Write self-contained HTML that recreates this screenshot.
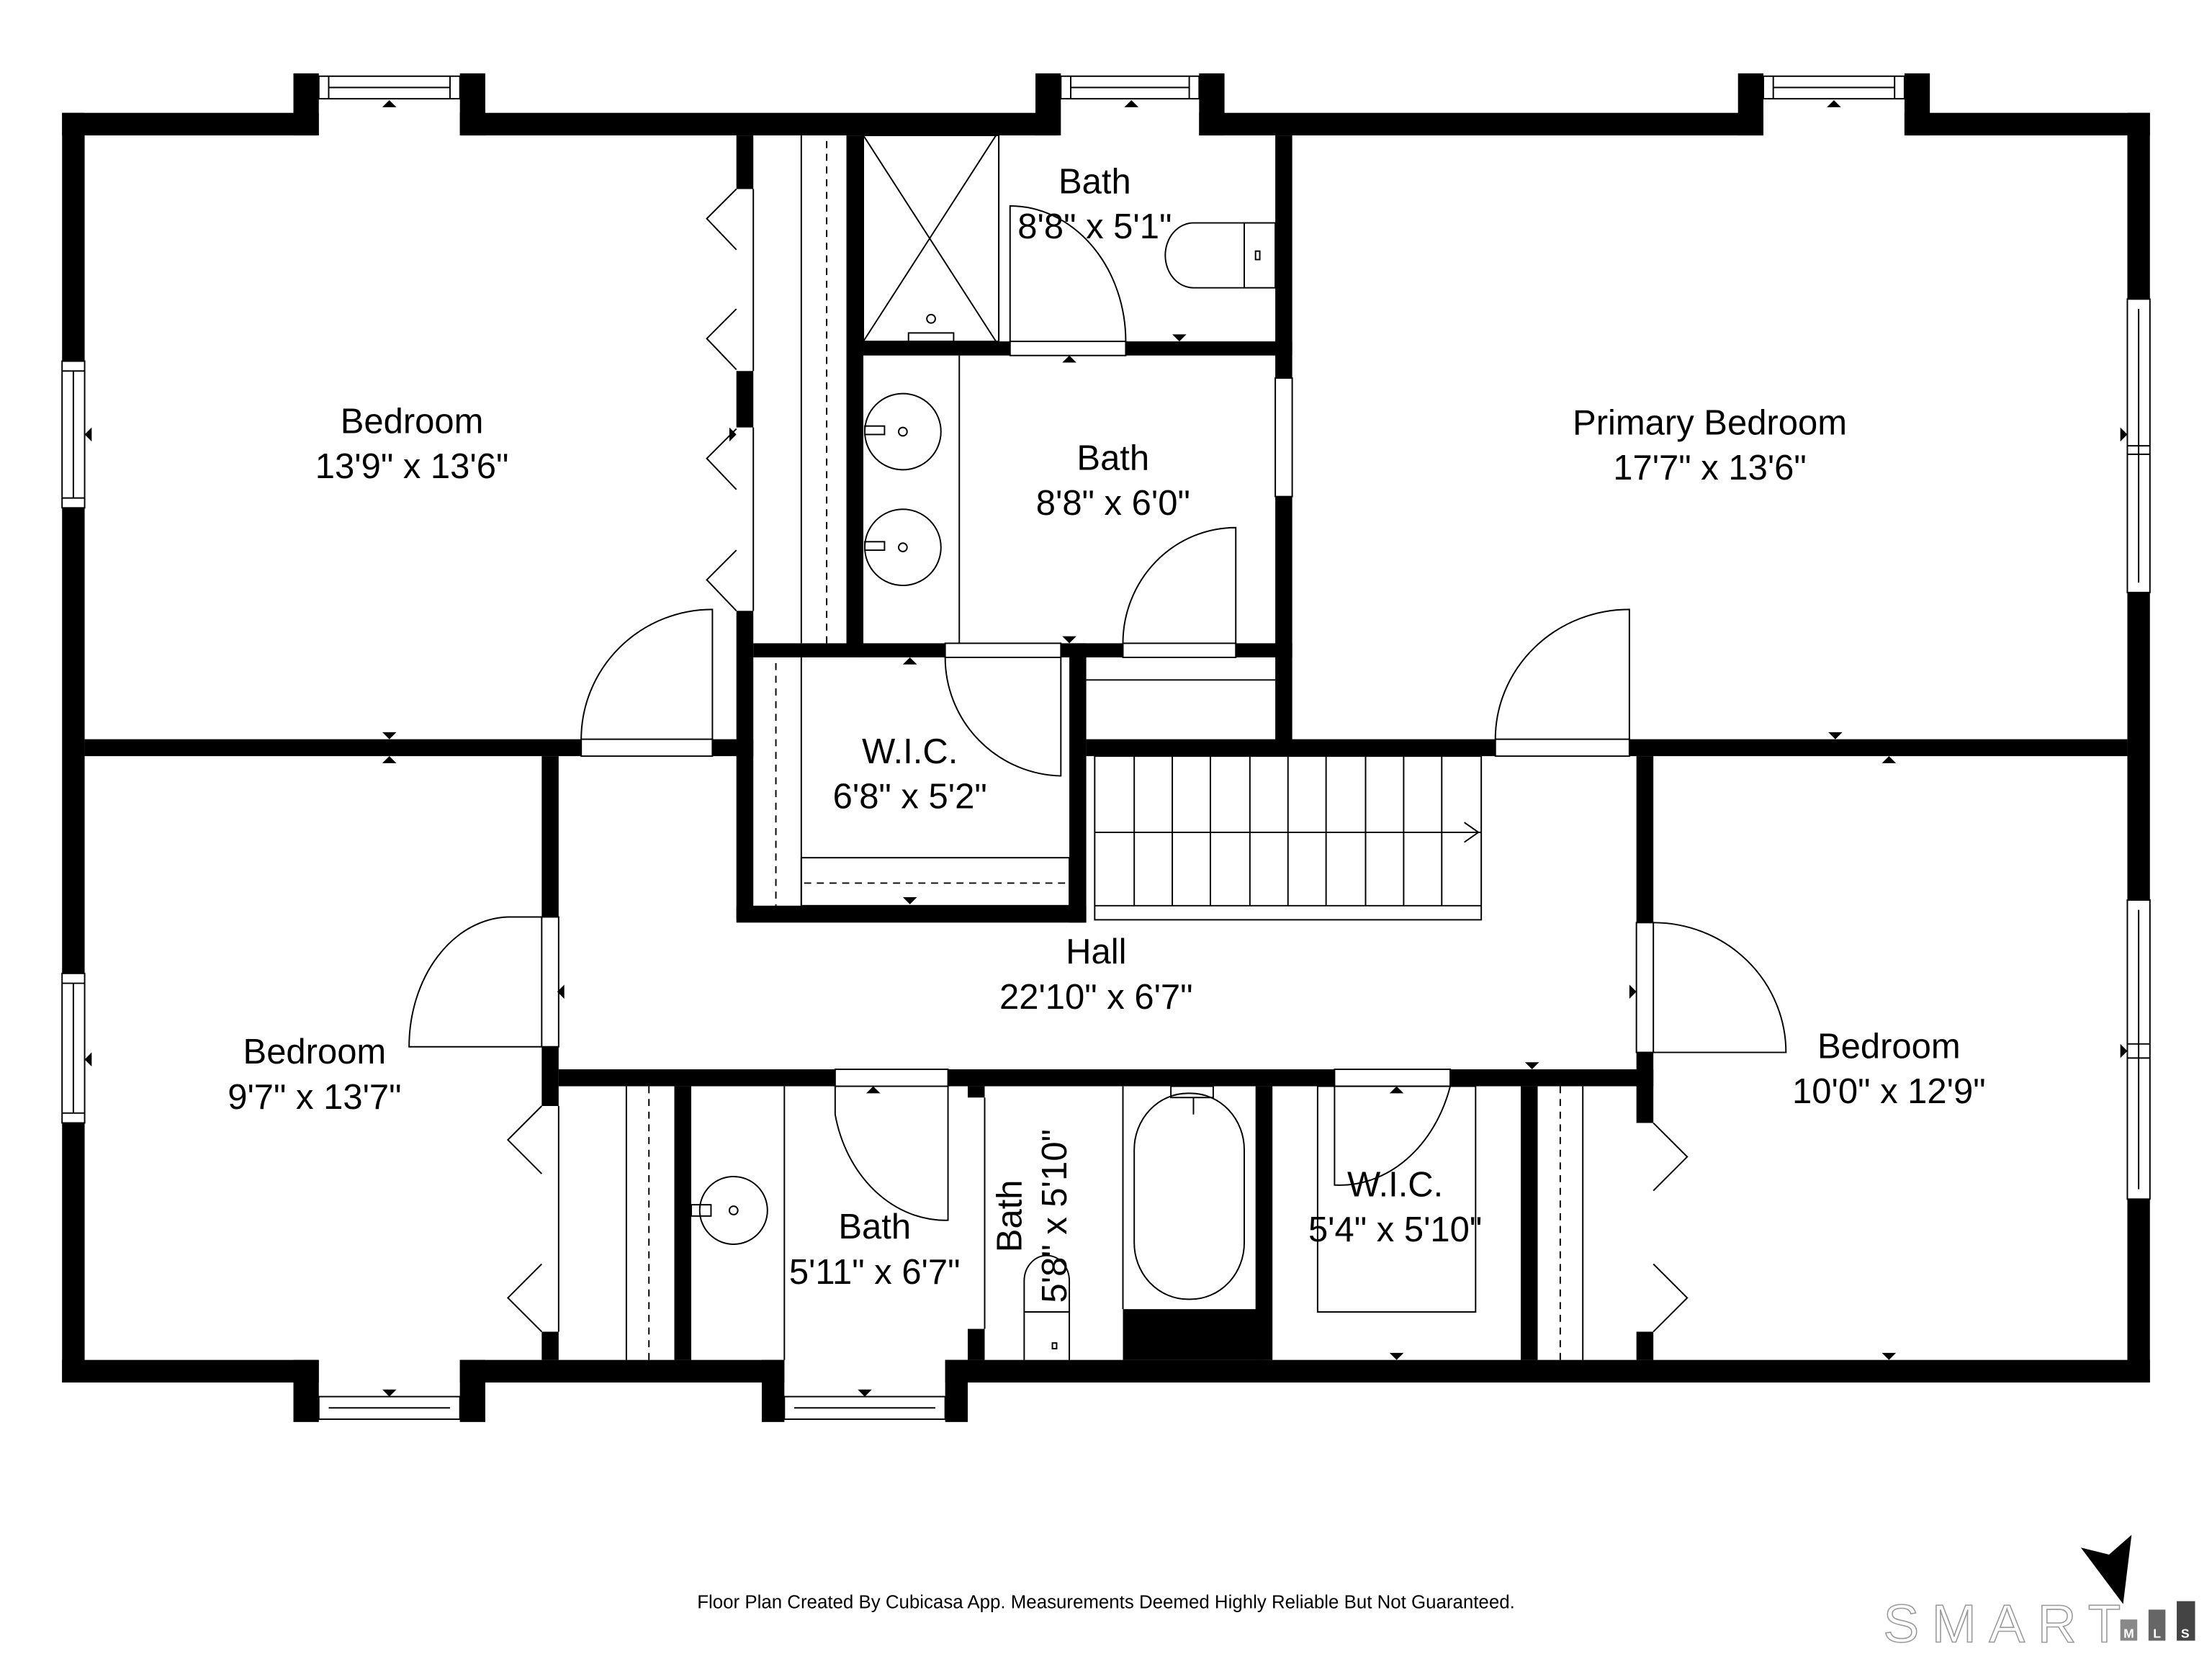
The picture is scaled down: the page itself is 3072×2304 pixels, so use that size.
<!DOCTYPE html>
<html><head><meta charset="utf-8"><style>
html,body{margin:0;padding:0;background:#fff}
svg{display:block}
text{font-family:"Liberation Sans",sans-serif}
</style></head><body>
<svg width="3072" height="2304" viewBox="0 0 1568 1176" xmlns="http://www.w3.org/2000/svg">
<rect width="1568" height="1176" fill="#fff"/>
<g fill="#000">
<rect x="44" y="80" width="16" height="176"/>
<rect x="44" y="360" width="16" height="330"/>
<rect x="44" y="796" width="16" height="184"/>
<rect x="44" y="80" width="182" height="16"/>
<rect x="208" y="52" width="18" height="44"/>
<rect x="326" y="52" width="18" height="44"/>
<rect x="326" y="80" width="424" height="16"/>
<rect x="734" y="52" width="18" height="44"/>
<rect x="850" y="52" width="18" height="44"/>
<rect x="850" y="80" width="400" height="16"/>
<rect x="1232" y="52" width="18" height="44"/>
<rect x="1350" y="52" width="18" height="44"/>
<rect x="1350" y="80" width="174" height="16"/>
<rect x="1508" y="80" width="16" height="132"/>
<rect x="1508" y="420" width="16" height="218"/>
<rect x="1508" y="850" width="16" height="130"/>
<rect x="44" y="964" width="182" height="16"/>
<rect x="208" y="964" width="18" height="44"/>
<rect x="326" y="964" width="18" height="44"/>
<rect x="326" y="964" width="230" height="16"/>
<rect x="540" y="964" width="16" height="44"/>
<rect x="670" y="964" width="16" height="44"/>
<rect x="670" y="964" width="854" height="16"/>
<rect x="522" y="96" width="12" height="38"/>
<rect x="522" y="263" width="12" height="40"/>
<rect x="522" y="433" width="12" height="219"/>
<rect x="60" y="524" width="352" height="12"/>
<rect x="505" y="524" width="29" height="12"/>
<rect x="600" y="96" width="12" height="370"/>
<rect x="612" y="242" width="104" height="10"/>
<rect x="798" y="242" width="118" height="10"/>
<rect x="904" y="96" width="12" height="172"/>
<rect x="904" y="352" width="12" height="184"/>
<rect x="534" y="456" width="136" height="10"/>
<rect x="752" y="456" width="44" height="10"/>
<rect x="876" y="456" width="40" height="10"/>
<rect x="522" y="642" width="248" height="12"/>
<rect x="758" y="456" width="12" height="198"/>
<rect x="770" y="524" width="290" height="12"/>
<rect x="1155" y="524" width="353" height="12"/>
<rect x="384" y="536" width="12" height="114"/>
<rect x="384" y="742" width="12" height="42"/>
<rect x="384" y="944" width="12" height="20"/>
<rect x="1160" y="536" width="12" height="118"/>
<rect x="1160" y="746" width="12" height="50"/>
<rect x="1160" y="944" width="12" height="20"/>
<rect x="396" y="758" width="196" height="12"/>
<rect x="672" y="758" width="274" height="12"/>
<rect x="1028" y="758" width="144" height="12"/>
<rect x="478" y="770" width="12" height="194"/>
<rect x="686" y="770" width="12" height="8"/>
<rect x="686" y="942" width="12" height="22"/>
<rect x="890" y="770" width="12" height="194"/>
<rect x="796" y="928" width="100" height="36"/>
<rect x="1078" y="770" width="12" height="194"/>
</g>
<g fill="none" stroke="#000" stroke-width="1">
<rect x="226" y="54" width="100" height="16"/><line x1="233" y1="62" x2="319" y2="62"/><line x1="233" y1="54" x2="233" y2="70"/><line x1="319" y1="54" x2="319" y2="70"/>
<rect x="752" y="54" width="98" height="16"/><line x1="759" y1="62" x2="843" y2="62"/><line x1="759" y1="54" x2="759" y2="70"/><line x1="843" y1="54" x2="843" y2="70"/>
<rect x="1250" y="54" width="100" height="16"/><line x1="1257" y1="62" x2="1343" y2="62"/><line x1="1257" y1="54" x2="1257" y2="70"/><line x1="1343" y1="54" x2="1343" y2="70"/>
<rect x="44" y="256" width="16" height="104"/><line x1="52" y1="263" x2="52" y2="353"/><line x1="44" y1="263" x2="60" y2="263"/><line x1="44" y1="353" x2="60" y2="353"/>
<rect x="44" y="690" width="16" height="106"/><line x1="52" y1="697" x2="52" y2="789"/><line x1="44" y1="697" x2="60" y2="697"/><line x1="44" y1="789" x2="60" y2="789"/>
<rect x="1508" y="212" width="16" height="208"/><line x1="1516" y1="219" x2="1516" y2="413"/><line x1="1508" y1="316" x2="1524" y2="316"/><line x1="1508" y1="322" x2="1524" y2="322"/>
<rect x="1508" y="638" width="16" height="212"/><line x1="1516" y1="645" x2="1516" y2="843"/><line x1="1508" y1="740" x2="1524" y2="740"/><line x1="1508" y1="750" x2="1524" y2="750"/>
<rect x="226" y="990" width="100" height="16"/><line x1="233" y1="998" x2="319" y2="998"/>
<rect x="556" y="990" width="114" height="16"/><line x1="563" y1="998" x2="663" y2="998"/>
<polyline points="522,134 501,155 522,177"/><polyline points="522,219 501,240 522,262"/>
<polyline points="522,304 501,325 522,347"/><polyline points="522,390 501,411 522,433"/>
<line x1="534" y1="134" x2="534" y2="263"/><line x1="534" y1="303" x2="534" y2="433"/>
<polyline points="384,784 360,808 384,832"/><polyline points="384,896 360,920 384,944"/><line x1="396" y1="784" x2="396" y2="944"/>
<polyline points="1172,796 1196,820 1172,844"/><polyline points="1172,896 1196,920 1172,944"/>
<line x1="568" y1="96" x2="568" y2="456"/><line x1="586" y1="100" x2="586" y2="456" stroke-dasharray="5,4"/>
<rect x="612" y="96" width="96" height="146"/><line x1="612" y1="96" x2="706" y2="242"/><line x1="706" y1="96" x2="612" y2="242"/><line x1="708" y1="96" x2="708" y2="242"/>
<rect x="644" y="236" width="32" height="6"/><circle cx="660" cy="226" r="3"/>
<path d="M716,242 V146 A82,96 0 0 1 798,242"/><rect x="716" y="242" width="82" height="10"/>
<path d="M882,158 H846 A20,23 0 0 0 846,204 H882"/><rect x="882" y="158" width="22" height="46"/><rect x="890" y="178" width="3" height="6"/>
<line x1="680" y1="252" x2="680" y2="456"/>
<circle cx="640" cy="306" r="27"/><circle cx="640" cy="388" r="27"/>
<circle cx="640" cy="306" r="3"/><circle cx="640" cy="388" r="3"/>
<rect x="613" y="302" width="14" height="6"/><rect x="613" y="384" width="14" height="6"/>
<path d="M876,456 V374 A80,82 0 0 0 796,456"/><rect x="796" y="456" width="80" height="10"/>
<rect x="670" y="456" width="82" height="10"/>
<rect x="904" y="268" width="12" height="84"/>
<path d="M670,466 A84,84 0 0 0 752,550 V466"/>
<line x1="568" y1="466" x2="568" y2="642"/><line x1="550" y1="470" x2="550" y2="642" stroke-dasharray="5,4"/>
<rect x="568" y="608" width="190" height="34"/><line x1="570" y1="626" x2="756" y2="626" stroke-dasharray="5,4"/>
<line x1="770" y1="482" x2="904" y2="482"/>
<rect x="776" y="536" width="274" height="116"/>
<line x1="776" y1="590" x2="1050" y2="590"/>
<g><line x1="804" y1="536" x2="804" y2="642"/><line x1="831" y1="536" x2="831" y2="642"/><line x1="858" y1="536" x2="858" y2="642"/><line x1="886" y1="536" x2="886" y2="642"/><line x1="913" y1="536" x2="913" y2="642"/><line x1="940" y1="536" x2="940" y2="642"/><line x1="968" y1="536" x2="968" y2="642"/><line x1="995" y1="536" x2="995" y2="642"/><line x1="1022" y1="536" x2="1022" y2="642"/></g>
<line x1="776" y1="642" x2="1050" y2="642"/>
<polyline points="1038,583 1048,590 1038,597"/>
<path d="M505,524 V432 A93,92 0 0 0 412,524"/><rect x="412" y="524" width="93" height="12"/>
<path d="M1155,524 V432 A95,92 0 0 0 1060,524"/><rect x="1060" y="524" width="95" height="12"/>
<path d="M384,650 H360 A72,92 0 0 0 290,742 H384"/><rect x="384" y="650" width="12" height="92"/>
<path d="M1172,654 A94,92 0 0 1 1266,746 H1172"/><rect x="1160" y="654" width="12" height="92"/>
<line x1="460" y1="770" x2="460" y2="964" stroke-dasharray="5,4"/><line x1="444" y1="770" x2="444" y2="964"/>
<line x1="1106" y1="770" x2="1106" y2="964" stroke-dasharray="5,4"/><line x1="1122" y1="770" x2="1122" y2="964"/>
<line x1="556" y1="770" x2="556" y2="964"/>
<circle cx="520" cy="858" r="24"/><circle cx="520" cy="858" r="3"/><rect x="490" y="854" width="14" height="8"/>
<path d="M592,770 V790 A80,95 0 0 0 672,865 V770"/><rect x="592" y="758" width="80" height="12"/>
<line x1="698" y1="778" x2="698" y2="942"/>
<path d="M726,964 V908 A16,18 0 0 1 758,908 V964"/><line x1="726" y1="930" x2="758" y2="930"/><rect x="746" y="952" width="3" height="4"/>
<line x1="796" y1="770" x2="796" y2="928"/>
<rect x="804" y="775" width="78" height="146" rx="38" ry="40"/>
<rect x="830" y="770" width="30" height="8"/><line x1="846" y1="778" x2="846" y2="790"/>
<rect x="934" y="770" width="112" height="160"/>
<path d="M946,770 V840 A82,100 0 0 0 1028,770"/><rect x="946" y="758" width="82" height="12"/>
</g>
<g fill="#000">
<path d="M271,76 h10 l-5,-5z"/><path d="M797,76 h10 l-5,-5z"/><path d="M1295,76 h10 l-5,-5z"/>
<path d="M271,519 h10 l-5,5z"/><path d="M271,541 h10 l-5,-5z"/>
<path d="M65,303 v10 l-5,-5z"/><path d="M65,746 v10 l-5,-5z"/>
<path d="M1503,303 v10 l5,-5z"/><path d="M1503,740 v10 l5,-5z"/>
<path d="M517,303 v10 l5,-5z"/>
<path d="M1296,519 h10 l-5,5z"/><path d="M1334,541 h10 l-5,-5z"/>
<path d="M1081,753 h10 l-5,5z"/><path d="M271,985 h10 l-5,5z"/><path d="M1334,959 h10 l-5,5z"/>
<path d="M985,959 h10 l-5,5z"/><path d="M985,775 h10 l-5,-5z"/><path d="M614,775 h10 l-5,-5z"/>
<path d="M640,636 h10 l-5,5z"/><path d="M640,471 h10 l-5,-5z"/><path d="M753,257 h10 l-5,-5z"/>
<path d="M753,451 h10 l-5,5z"/><path d="M831,237 h10 l-5,5z"/>
<path d="M400,698 v10 l-5,-5z"/><path d="M1155,698 v10 l5,-5z"/>
<path d="M608,985 h10 l-5,5z"/>
</g>
<g font-size="25" text-anchor="middle" fill="#000">
<text x="292" y="307">Bedroom</text><text x="292" y="339">13'9" x 13'6"</text>
<text x="776" y="137">Bath</text><text x="776" y="169">8'8" x 5'1"</text>
<text x="789" y="333">Bath</text><text x="789" y="365">8'8" x 6'0"</text>
<text x="1212" y="308">Primary Bedroom</text><text x="1212" y="340">17'7" x 13'6"</text>
<text x="645" y="541">W.I.C.</text><text x="645" y="573">6'8" x 5'2"</text>
<text x="777" y="683">Hall</text><text x="777" y="715">22'10" x 6'7"</text>
<text x="223" y="754">Bedroom</text><text x="223" y="786">9'7" x 13'7"</text>
<text x="1339" y="750">Bedroom</text><text x="1339" y="782">10'0" x 12'9"</text>
<text x="620" y="878">Bath</text><text x="620" y="910">5'11" x 6'7"</text>
<text x="989" y="848">W.I.C.</text><text x="989" y="880">5'4" x 5'10"</text>
<text transform="translate(724,862) rotate(-90)">Bath</text>
<text transform="translate(756,862) rotate(-90)">5'8" x 5'10"</text>
</g>
<text x="784" y="1140" font-size="13.2" text-anchor="middle" fill="#000">Floor Plan Created By Cubicasa App. Measurements Deemed Highly Reliable But Not Guaranteed.</text>
<text x="1335" y="1164" font-size="38" fill="#fff" stroke="#999" stroke-width="0.8" letter-spacing="9">SMART</text>
<polygon points="1475,1097 1495,1102 1511,1088 1505,1137" fill="#000"/>
<rect x="1503" y="1148" width="12" height="15" fill="#888"/>
<rect x="1523" y="1141" width="12" height="22" fill="#666"/>
<rect x="1543" y="1135" width="13" height="28" fill="#444"/>
<g font-size="9" fill="#fff" text-anchor="middle" font-weight="bold"><text x="1509" y="1161">M</text><text x="1529" y="1161">L</text><text x="1549" y="1161">S</text></g>
</svg>
</body></html>
